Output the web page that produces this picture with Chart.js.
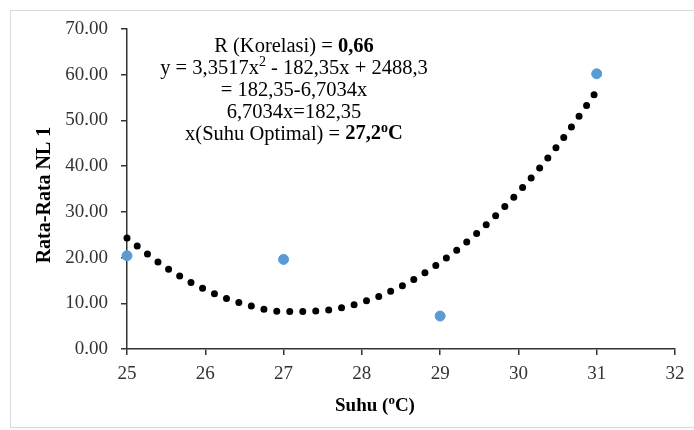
<!DOCTYPE html>
<html>
<head>
<meta charset="utf-8">
<script src="https://cdn.jsdelivr.net/npm/chart.js@4.4.0/dist/chart.umd.min.js"></script>
<style>
  html, body { margin: 0; padding: 0; background: #fff; }
  #wrap { width: 694px; height: 430px; position: relative; }
</style>
</head>
<body>
<div id="wrap"><canvas id="grafik" width="694" height="430"></canvas></div>
<script>
// Data pengamatan
const suhu = [25, 27, 29, 31];
const rataNL1 = [20.4, 19.6, 7.2, 60.2];

// Garis tren polinomial
const trendX = [25, 25.5, 26, 26.5, 27, 27.5, 28, 28.5, 29, 29.5, 30, 30.5, 31];
const trendY = [24.3, 17.8, 13.0, 9.8, 8.2, 8.4, 10.2, 13.7, 18.9, 25.8, 34.3, 44.5, 56.4];

// Tick sumbu
const xTicks = [25, 26, 27, 28, 29, 30, 31, 32];
const yTicks = [0, 10, 20, 30, 40, 50, 60, 70];

const serif = "'Liberation Serif', 'Times New Roman', serif";

// Teks anotasi: segmen [teks, tebal, superscript]
const anotasi = [
  [["R (Korelasi) = ", false, false], ["0,66", true, false]],
  [["y = 3,3517x", false, false], ["2", false, true], [" - 182,35x + 2488,3", false, false]],
  [["= 182,35-6,7034x", false, false]],
  [["6,7034x=182,35", false, false]],
  [["x(Suhu Optimal) = ", false, false], ["27,2", true, false], ["o", true, true], ["C", true, false]]
];

function drawRich(c, segs, cx, cy, size) {
  const fontOf = (s) => (s[1] ? "bold " : "") + (s[2] ? Math.round(size * 0.7) : size) + "px " + serif;
  let total = 0;
  segs.forEach(s => { c.font = fontOf(s); total += c.measureText(s[0]).width; });
  let x = cx - total / 2;
  c.textBaseline = "middle";
  c.textAlign = "left";
  segs.forEach(s => {
    c.font = fontOf(s);
    c.fillText(s[0], x, s[2] ? cy - size * 0.3 : cy);
    x += c.measureText(s[0]).width;
  });
}

const teksPlugin = {
  id: "teks",
  afterDraw(chart) {
    const c = chart.ctx;
    c.save();
    // bingkai
    c.strokeStyle = "#d9d9d9";
    c.lineWidth = 1;
    c.strokeRect(10.5, 10.5, 720, 417);

    c.fillStyle = "#000";
    anotasi.forEach((baris, i) => drawRich(c, baris, 294, 47 + i * 21.8, 20.5));

    // judul sumbu x
    drawRich(c, [["Suhu (", true, false], ["o", true, true], ["C)", true, false]], 375, 406, 19);

    // judul sumbu y
    c.translate(45, 195);
    c.rotate(-Math.PI / 2);
    drawRich(c, [["Rata-Rata NL 1", true, false]], 0, 0, 20);
    c.restore();
  }
};

const ctx = document.getElementById("grafik").getContext("2d");

new Chart(ctx, {
  type: "scatter",
  data: {
    datasets: [
      {
        label: "Rata-Rata NL 1",
        data: suhu.map((s, i) => ({ x: s, y: rataNL1[i] })),
        backgroundColor: "#5b9bd5",
        borderColor: "#5b9bd5",
        pointRadius: 5,
        clip: false,
        order: 1
      },
      {
        label: "Tren",
        data: trendX.map((s, i) => ({ x: s, y: trendY[i] })),
        showLine: true,
        pointRadius: 0,
        borderColor: "#000",
        borderWidth: 7,
        borderDash: [0, 13],
        borderCapStyle: "round",
        cubicInterpolationMode: "monotone",
        clip: false,
        order: 2
      }
    ]
  },
  options: {
    responsive: false,
    animation: false,
    layout: { padding: { top: 29, right: 19, left: 0, bottom: 0 } },
    plugins: {
      legend: { display: false },
      tooltip: { enabled: false }
    },
    scales: {
      x: {
        type: "linear",
        min: 25,
        max: 32,
        afterBuildTicks: (s) => { s.ticks = xTicks.map(v => ({ value: v })); },
        afterFit: (s) => { s.height = 81; },
        grid: { drawOnChartArea: false, drawTicks: true, tickLength: 6, color: "#333", lineWidth: 1.5 },
        border: { display: true, color: "#333", width: 1.5 },
        ticks: {
          color: "#333",
          padding: 8,
          maxRotation: 0,
          autoSkip: false,
          font: { family: serif, size: 19 }
        }
      },
      y: {
        min: 0,
        max: 70,
        afterBuildTicks: (s) => { s.ticks = yTicks.map(v => ({ value: v })); },
        afterFit: (s) => { s.width = 127; },
        grid: { drawOnChartArea: false, drawTicks: true, tickLength: 6, color: "#333", lineWidth: 1.5 },
        border: { display: true, color: "#333", width: 1.5 },
        ticks: {
          color: "#333",
          padding: 13,
          callback: (v) => v.toFixed(2),
          font: { family: serif, size: 19 }
        }
      }
    }
  },
  plugins: [teksPlugin]
});
</script>
</body>
</html>
